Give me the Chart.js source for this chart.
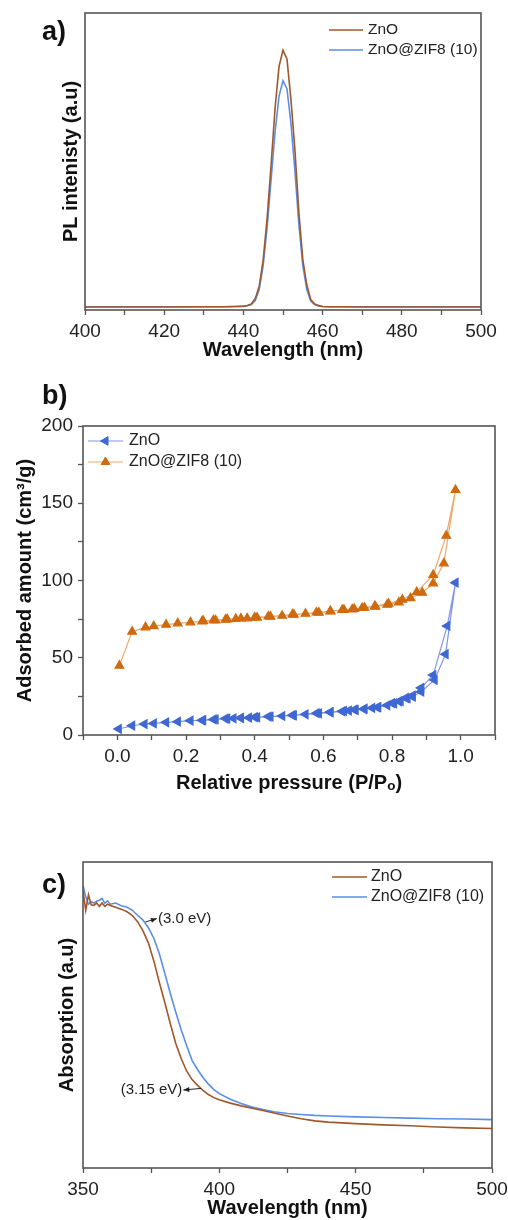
<!DOCTYPE html>
<html>
<head>
<meta charset="utf-8">
<script src="https://cdn.jsdelivr.net/npm/chart.js@4.4.1/dist/chart.umd.min.js"></script>
<style>
  body { margin: 0; background: #fff; width: 508px; height: 1220px; position: relative; overflow: hidden; }
  canvas { position: absolute; left: 0; }
</style>
</head>
<body>
<canvas id="chartA" width="508" height="380" style="top:0"></canvas>
<canvas id="chartB" width="508" height="420" style="top:380px"></canvas>
<canvas id="chartC" width="524" height="420" style="top:800px"></canvas>
<script>
// a) PL spectra
const plWavelength = [400, 410, 420, 430, 435, 438, 440, 441, 442, 443, 444, 445, 446, 447, 448, 449, 450,
  451, 452, 453, 454, 455, 456, 457, 458, 459, 460, 462, 465, 470, 480, 490, 500];
const plZnO = [0.010, 0.010, 0.010, 0.011, 0.011, 0.012, 0.013, 0.015, 0.020, 0.039, 0.080, 0.170, 0.310, 0.490, 0.680, 0.820, 0.875,
  0.845, 0.710, 0.540, 0.330, 0.170, 0.085, 0.035, 0.020, 0.015, 0.012, 0.011, 0.011, 0.010, 0.010, 0.010, 0.010];
const plZnOZif = [0.011, 0.011, 0.011, 0.011, 0.011, 0.012, 0.012, 0.014, 0.018, 0.032, 0.070, 0.150, 0.280, 0.440, 0.600, 0.720, 0.772,
  0.745, 0.630, 0.470, 0.290, 0.150, 0.070, 0.030, 0.018, 0.013, 0.012, 0.011, 0.011, 0.011, 0.011, 0.011, 0.011];

// b) N2 isotherms (adsorption branch then desorption branch)
const betPressureZnO = [0.004, 0.043, 0.079, 0.106, 0.142, 0.176, 0.213, 0.247, 0.286, 0.315, 0.338, 0.359, 0.383, 0.407,
  0.446, 0.480, 0.514, 0.548, 0.587, 0.621, 0.655, 0.674, 0.694, 0.718, 0.742, 0.757, 0.786, 0.806, 0.825, 0.845, 0.860,
  0.885, 0.924, 0.956, 0.985,
  0.961, 0.920, 0.885, 0.860, 0.840, 0.820, 0.800, 0.760, 0.720, 0.690, 0.660, 0.620, 0.580, 0.510, 0.440, 0.400, 0.360,
  0.320, 0.280, 0.250];
const betAmountZnO = [3.9, 6.0, 7.1, 7.5, 8.2, 8.6, 9.3, 9.5, 10.1, 10.6, 10.8, 11.0, 11.2, 11.4,
  11.9, 12.3, 12.7, 13.4, 14.0, 14.7, 15.3, 15.8, 16.2, 16.8, 17.5, 17.9, 19.2, 20.5, 22.0, 23.7, 24.8,
  28.0, 35.6, 52.3, 98.6,
  70.6, 38.8, 30.5, 25.5, 24.0, 21.8, 20.6, 18.0, 17.0, 16.4, 15.6, 14.8, 14.1, 12.8, 11.9, 11.5, 11.1,
  10.6, 10.1, 9.6];
const betPressureZif = [0.006, 0.043, 0.082, 0.106, 0.142, 0.176, 0.213, 0.247, 0.286, 0.315, 0.345, 0.378, 0.407,
  0.446, 0.480, 0.514, 0.548, 0.587, 0.621, 0.655, 0.684, 0.713, 0.752, 0.786, 0.820, 0.854, 0.888, 0.920, 0.951, 0.985,
  0.958, 0.920, 0.872, 0.830, 0.790, 0.750, 0.720, 0.690, 0.660, 0.620, 0.580, 0.510, 0.440, 0.400, 0.360, 0.320,
  0.280, 0.250];
const betAmountZif = [44.9, 66.9, 69.7, 70.5, 71.4, 72.3, 72.9, 73.6, 74.2, 74.7, 75.1, 75.5, 76.0,
  76.6, 77.2, 77.9, 78.5, 79.2, 80.0, 80.9, 81.3, 82.2, 83.0, 84.3, 85.8, 88.6, 92.1, 98.2, 111.1, 158.6,
  129.0, 103.6, 92.5, 87.6, 85.0, 83.4, 82.4, 81.6, 81.0, 80.2, 79.3, 78.0, 76.7, 76.1, 75.4, 74.9,
  74.3, 73.9];

// c) UV-vis absorption
const uvWavelength = [350, 351, 352, 353, 354, 355, 356, 357, 358, 359, 360, 362, 364, 366, 368, 370, 372, 374, 376, 378,
  380, 382, 384, 386, 388, 390, 392, 394, 396, 398, 400, 404, 408, 412, 416, 420, 425, 430, 435, 440, 450, 460, 470,
  480, 490, 500];
const uvZnO = [0.905, 0.842, 0.893, 0.860, 0.858, 0.866, 0.855, 0.866, 0.855, 0.862, 0.858, 0.852, 0.846, 0.838, 0.826,
  0.805, 0.775, 0.735, 0.676, 0.606, 0.541, 0.472, 0.408, 0.358, 0.317, 0.289, 0.270, 0.254, 0.240, 0.230, 0.223, 0.212,
  0.203, 0.195, 0.188, 0.180, 0.170, 0.161, 0.154, 0.150, 0.145, 0.141, 0.138, 0.134, 0.131, 0.129];
const uvZnOZif = [0.924, 0.886, 0.862, 0.870, 0.866, 0.872, 0.875, 0.881, 0.865, 0.873, 0.862, 0.866, 0.857, 0.853, 0.843,
  0.826, 0.810, 0.785, 0.750, 0.700, 0.636, 0.571, 0.510, 0.452, 0.400, 0.352, 0.322, 0.296, 0.274, 0.256, 0.243, 0.225,
  0.211, 0.199, 0.191, 0.184, 0.178, 0.175, 0.172, 0.170, 0.167, 0.165, 0.163, 0.161, 0.160, 0.158];

const seriesLabels = ["ZnO", "ZnO@ZIF8 (10)"];
const bandGapNotes = ["(3.0 eV)", "(3.15 eV)"];

Chart.defaults.font.family = "'Liberation Sans', Arial, sans-serif";
Chart.defaults.color = "#222";

const AXIS = "#555";
const BROWN = "#a0582a";
const BLUE = "#5b8ee6";

function toPoints(xs, ys) {
  return xs.map((x, i) => ({ x: x, y: ys[i] }));
}

// box around the plot area
const framePlugin = {
  id: "frame",
  afterDatasetsDraw(chart) {
    const { ctx, chartArea } = chart;
    ctx.save();
    ctx.strokeStyle = AXIS;
    ctx.lineWidth = 1.6;
    ctx.strokeRect(chartArea.left, chartArea.top, chartArea.right - chartArea.left, chartArea.bottom - chartArea.top);
    ctx.restore();
  },
};

// legend inside the plot area, drawn from the datasets
const sampleLegend = {
  id: "sampleLegend",
  afterDraw(chart, args, opts) {
    const { ctx, chartArea } = chart;
    ctx.save();
    ctx.font = opts.font;
    ctx.textBaseline = "middle";
    chart.data.datasets.forEach((ds, i) => {
      const x = chartArea.left + opts.x;
      const y = chartArea.top + opts.y + i * opts.spacing;
      ctx.strokeStyle = ds.borderColor;
      ctx.lineWidth = ds.borderWidth;
      ctx.beginPath();
      ctx.moveTo(x, y);
      ctx.lineTo(x + opts.length, y);
      ctx.stroke();
      if (ds.pointRadius > 0) {
        ctx.fillStyle = ds.pointBackgroundColor;
        ctx.strokeStyle = ds.pointBorderColor;
        ctx.lineWidth = 1;
        Chart.helpers.drawPoint(ctx, {
          pointStyle: ds.pointStyle,
          rotation: ds.pointRotation || 0,
          radius: ds.pointRadius,
          borderWidth: 1,
        }, x + opts.length / 2, y);
      }
      ctx.fillStyle = "#222";
      ctx.fillText(ds.label, x + opts.length + opts.gap, y);
    });
    ctx.restore();
  },
};

// panel letter
const panelTag = {
  id: "panelTag",
  afterDraw(chart, args, opts) {
    const ctx = chart.ctx;
    ctx.save();
    ctx.font = "bold 27px 'Liberation Sans', Arial, sans-serif";
    ctx.fillStyle = "#111";
    ctx.textBaseline = "alphabetic";
    ctx.fillText(opts.text, opts.x, opts.y);
    ctx.restore();
  },
};

// band gap notes with arrows, placed in data units
const arrowNotes = {
  id: "arrowNotes",
  afterDraw(chart, args, opts) {
    const { ctx, scales } = chart;
    ctx.save();
    ctx.font = "15px 'Liberation Sans', Arial, sans-serif";
    ctx.textBaseline = "middle";
    ctx.strokeStyle = "#222";
    ctx.fillStyle = "#222";
    ctx.lineWidth = 1;
    (opts.notes || []).forEach((n) => {
      const x0 = scales.x.getPixelForValue(n.from[0]);
      const y0 = scales.y.getPixelForValue(n.from[1]);
      const x1 = scales.x.getPixelForValue(n.to[0]);
      const y1 = scales.y.getPixelForValue(n.to[1]);
      ctx.beginPath();
      ctx.moveTo(x0, y0);
      ctx.lineTo(x1, y1);
      ctx.stroke();
      const a = Math.atan2(y1 - y0, x1 - x0);
      ctx.beginPath();
      ctx.moveTo(x1, y1);
      ctx.lineTo(x1 - 6 * Math.cos(a) + 2.5 * Math.sin(a), y1 - 6 * Math.sin(a) - 2.5 * Math.cos(a));
      ctx.lineTo(x1 - 6 * Math.cos(a) - 2.5 * Math.sin(a), y1 - 6 * Math.sin(a) + 2.5 * Math.cos(a));
      ctx.closePath();
      ctx.fill();
      ctx.textAlign = n.align;
      ctx.fillText(n.text, x1 + (n.align === "left" ? 1 : -1), y1);
    });
    ctx.restore();
  },
};

function xAxis(min, max, step, label, title, height, titlePad) {
  return {
    type: "linear",
    min: min,
    max: max,
    afterFit: (s) => { s.height = height; },
    border: { display: false },
    grid: { display: true, drawOnChartArea: false, tickLength: 5, tickColor: AXIS, tickWidth: 1.3 },
    ticks: { stepSize: step, autoSkip: false, maxRotation: 0, padding: 5, font: { size: 19 }, color: "#222", callback: label },
    title: { display: true, text: title, font: { size: 20, weight: "bold" }, color: "#111", padding: { top: 0, bottom: titlePad } },
  };
}

function yAxis(min, max, step, label, title, width, titlePad) {
  const showTicks = step > 0;
  return {
    min: min,
    max: max,
    afterFit: (s) => { s.width = width; },
    border: { display: false },
    grid: { display: showTicks, drawOnChartArea: false, tickLength: 5, tickColor: AXIS, tickWidth: 1.3 },
    ticks: showTicks
      ? { stepSize: step, autoSkip: false, padding: 5, font: { size: 19 }, color: "#222", callback: label }
      : { display: false },
    title: { display: true, text: title, font: { size: 20, weight: "bold" }, color: "#111", padding: { top: titlePad, bottom: 0 } },
  };
}

const commonPlugins = [framePlugin, sampleLegend, panelTag];

new Chart(document.getElementById("chartA"), {
  type: "line",
  data: {
    datasets: [
      { label: seriesLabels[0], data: toPoints(plWavelength, plZnO), borderColor: BROWN, borderWidth: 1.6, pointRadius: 0, tension: 0 },
      { label: seriesLabels[1], data: toPoints(plWavelength, plZnOZif), borderColor: BLUE, borderWidth: 1.6, pointRadius: 0, tension: 0 },
    ],
  },
  options: {
    responsive: false,
    animation: false,
    layout: { padding: { left: 0, right: 27, top: 13, bottom: 0 } },
    scales: {
      x: xAxis(400, 500, 10, (v) => (v % 20 === 0 ? v : ""), "Wavelength (nm)", 70, 18),
      y: yAxis(0, 1, 0, null, "PL intenisty (a.u)", 85, 59),
    },
    plugins: {
      legend: { display: false },
      tooltip: { enabled: false },
      sampleLegend: { x: 244, y: 17, spacing: 20, length: 34, gap: 5, font: "15.5px 'Liberation Sans', Arial, sans-serif" },
      panelTag: { text: "a)", x: 42, y: 40 },
    },
  },
  plugins: commonPlugins,
});

new Chart(document.getElementById("chartB"), {
  type: "line",
  data: {
    datasets: [
      {
        label: seriesLabels[0], data: toPoints(betPressureZnO, betAmountZnO),
        borderColor: "#7f95e6", borderWidth: 1.2, tension: 0,
        pointStyle: "triangle", pointRotation: 270, pointRadius: 5,
        pointBackgroundColor: "#3f68d2", pointBorderColor: "#3f68d2",
      },
      {
        label: seriesLabels[1], data: toPoints(betPressureZif, betAmountZif),
        borderColor: "#f0a76a", borderWidth: 1.2, tension: 0,
        pointStyle: "triangle", pointRadius: 5,
        pointBackgroundColor: "#cf6a0e", pointBorderColor: "#cf6a0e",
      },
    ],
  },
  options: {
    responsive: false,
    animation: false,
    layout: { padding: { left: 0, right: 13, top: 46, bottom: 0 } },
    scales: {
      x: xAxis(-0.1, 1.1, 0.1, (v) => {
        const r = Math.round(v * 10);
        return r >= 0 && r <= 10 && r % 2 === 0 ? (r / 10).toFixed(1) : "";
      }, "Relative pressure (P/Pₒ)", 65, 5),
      y: yAxis(0, 200, 25, (v) => (v % 50 === 0 ? v : ""), "Adsorbed amount (cm³/g)", 83, 13),
    },
    plugins: {
      legend: { display: false },
      tooltip: { enabled: false },
      sampleLegend: { x: 5, y: 15, spacing: 21, length: 35, gap: 6, font: "16px 'Liberation Sans', Arial, sans-serif" },
      panelTag: { text: "b)", x: 42, y: 24 },
    },
  },
  plugins: commonPlugins,
});

new Chart(document.getElementById("chartC"), {
  type: "line",
  data: {
    datasets: [
      { label: seriesLabels[0], data: toPoints(uvWavelength, uvZnO), borderColor: BROWN, borderWidth: 1.6, pointRadius: 0, tension: 0 },
      { label: seriesLabels[1], data: toPoints(uvWavelength, uvZnOZif), borderColor: BLUE, borderWidth: 1.6, pointRadius: 0, tension: 0 },
    ],
  },
  options: {
    responsive: false,
    animation: false,
    layout: { padding: { left: 0, right: 32, top: 62, bottom: 0 } },
    scales: {
      x: xAxis(350, 500, 25, (v) => (v % 50 === 0 ? v : ""), "Wavelength (nm)", 52, 0),
      y: yAxis(0, 1, 0, null, "Absorption (a.u)", 83, 55),
    },
    plugins: {
      legend: { display: false },
      tooltip: { enabled: false },
      sampleLegend: { x: 249, y: 15, spacing: 20, length: 35, gap: 4, font: "16px 'Liberation Sans', Arial, sans-serif" },
      panelTag: { text: "c)", x: 42, y: 93 },
      arrowNotes: {
        notes: [
          { text: bandGapNotes[0], from: [372.9, 0.804], to: [377.1, 0.815], align: "left" },
          { text: bandGapNotes[1], from: [393.3, 0.260], to: [386.8, 0.255], align: "right" },
        ],
      },
    },
  },
  plugins: commonPlugins.concat([arrowNotes]),
});
</script>
</body>
</html>
